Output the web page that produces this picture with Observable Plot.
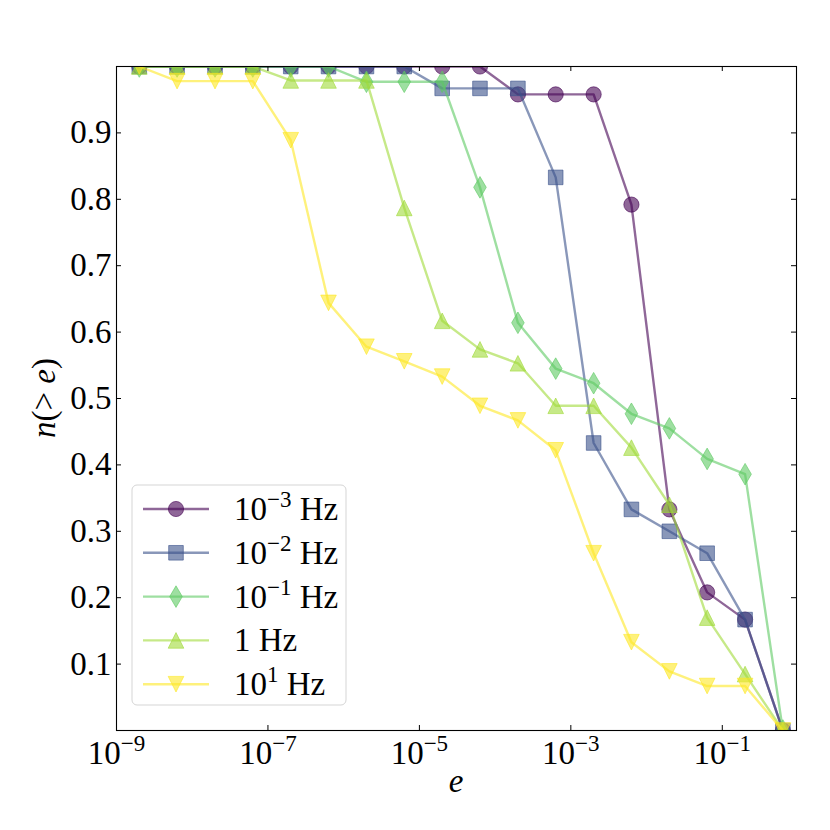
<!DOCTYPE html>
<html><head><meta charset="utf-8">
<script src="https://cdn.jsdelivr.net/npm/d3@7"></script>
<script src="https://cdn.jsdelivr.net/npm/@observablehq/plot@0.6"></script>
<style>
body{margin:0;background:#fff;}
#chart{position:relative;width:830px;height:830px;}
</style></head><body><div id="chart"></div>
<script>
// ---- data ----
const energies = [2e-9, 6.31e-9, 2e-8, 6.31e-8, 2e-7, 6.31e-7, 2e-6, 6.31e-6, 2e-5, 6.31e-5, 2e-4, 6.31e-4, 2e-3, 6.31e-3, 2e-2, 6.31e-2, 0.2, 0.631];
const seriesNames = ["10^−3 Hz", "10^−2 Hz", "10^−1 Hz", "1 Hz", "10^1 Hz"];
const nHz1e_3 = [1, 1, 1, 1, 1, 1, 1, 1, 1, 1, 0.958, 0.958, 0.958, 0.792, 0.333, 0.208, 0.167, 0];
const nHz1e_2 = [1, 1, 1, 1, 1, 1, 1, 1, 0.967, 0.967, 0.967, 0.833, 0.433, 0.333, 0.300, 0.267, 0.167, 0];
const nHz1e_1 = [1, 1, 1, 1, 1, 1, 0.977, 0.977, 0.977, 0.818, 0.614, 0.545, 0.523, 0.477, 0.455, 0.409, 0.386, 0];
const nHz1e0  = [1, 1, 1, 1, 0.979, 0.979, 0.979, 0.787, 0.617, 0.574, 0.553, 0.489, 0.489, 0.426, 0.340, 0.170, 0.085, 0];
const nHz1e1  = [1, 0.978, 0.978, 0.978, 0.889, 0.644, 0.578, 0.556, 0.533, 0.489, 0.467, 0.422, 0.267, 0.133, 0.089, 0.067, 0.067, 0];
const seriesValues = [nHz1e_3, nHz1e_2, nHz1e_1, nHz1e0, nHz1e1];
const xTicks = [1e-9, 1e-7, 1e-5, 1e-3, 1e-1];
const yTicks = [0.1, 0.2, 0.3, 0.4, 0.5, 0.6, 0.7, 0.8, 0.9];

// ---- styles ----
const colors = ["#440154", "#3b528b", "#5ec962", "#a0da39", "#fde725"];
const ALPHA = 0.6;
const FONT = "'Liberation Serif', 'DejaVu Serif', serif";
const symCircle = {draw(c){ c.moveTo(7.6, 0); c.arc(0, 0, 7.6, 0, 2 * Math.PI); c.closePath(); }};
const symSquare = {draw(c){ c.moveTo(-7.3, -7.3); c.lineTo(7.3, -7.3); c.lineTo(7.3, 7.3); c.lineTo(-7.3, 7.3); c.closePath(); }};
const symThinDiamond = {draw(c){ c.moveTo(0, -10.8); c.lineTo(6.3, 0); c.lineTo(0, 10.8); c.lineTo(-6.3, 0); c.closePath(); }};
const symTriUp = {draw(c){ c.moveTo(0, -7.8); c.lineTo(7.8, 7.8); c.lineTo(-7.8, 7.8); c.closePath(); }};
const symTriDown = {draw(c){ c.moveTo(0, 7.8); c.lineTo(7.8, -7.8); c.lineTo(-7.8, -7.8); c.closePath(); }};
const symbols = [symCircle, symSquare, symThinDiamond, symTriUp, symTriDown];

const W = 830, H = 830, mL = 116, mR = 34, mT = 66, mB = 100;
const pw = W - mL - mR, ph = H - mT - mB, TL = 5;

const marks = [];
seriesValues.forEach((vals, k) => {
  const rows = energies.map((e, i) => ({e, n: vals[i]}));
  marks.push(Plot.line(rows, {x: "e", y: "n", stroke: colors[k], strokeWidth: 2.4, strokeOpacity: ALPHA, clip: true}));
  marks.push(Plot.dot(rows, {x: "e", y: "n", symbol: symbols[k], fill: colors[k], fillOpacity: ALPHA,
    stroke: colors[k], strokeOpacity: ALPHA, strokeWidth: 1, clip: true}));
});

const svg = Plot.plot({
  width: W, height: H,
  marginLeft: mL, marginRight: mR, marginTop: mT, marginBottom: mB,
  style: {fontFamily: FONT, fontSize: "33px", color: "#000", background: "#fff"},
  x: {type: "log", domain: [1e-9, 0.955]},
  y: {domain: [0, 1]},
  marks: [
    ...marks,
    Plot.frame({stroke: "#000", strokeWidth: 1.1}),
    Plot.tickX(xTicks, {x: d => d, insetTop: ph - TL, stroke: "#000"}),
    Plot.tickX(xTicks, {x: d => d, insetBottom: ph - TL, stroke: "#000"}),
    Plot.tickY(yTicks, {y: d => d, insetRight: pw - TL, stroke: "#000"}),
    Plot.tickY(yTicks, {y: d => d, insetLeft: pw - TL, stroke: "#000"}),
    Plot.axisX({ticks: xTicks, tickSize: 0, tickPadding: 10, fontSize: 33, label: null,
      tickFormat: d => String(Math.round(Math.log10(d))).replace("-", "−")}),
    Plot.axisY({ticks: yTicks, tickSize: 0, tickPadding: 5, fontSize: 33, label: null,
      tickFormat: d3.format(".1f")})
  ]
});
document.getElementById("chart").appendChild(svg);
const S = d3.select(svg);

// superscript x tick labels
S.selectAll('g[aria-label="x-axis tick label"] text').each(function(){
  const exp = this.textContent;
  this.textContent = "";
  const t = d3.select(this);
  t.append("tspan").text("10");
  t.append("tspan").attr("dy", -13).attr("font-size", "23px").text(exp);
});

// axis labels
S.append("text").attr("x", mL + pw / 2).attr("y", 792).attr("text-anchor", "middle")
  .attr("font-family", FONT).attr("font-size", 33).attr("font-style", "italic").text("e");
const yl = S.append("text").attr("transform", `translate(55,${mT + ph / 2}) rotate(-90)`)
  .attr("text-anchor", "middle").attr("font-family", FONT).attr("font-size", 33);
yl.append("tspan").attr("font-style", "italic").text("n");
yl.append("tspan").text("(> ");
yl.append("tspan").attr("font-style", "italic").text("e");
yl.append("tspan").text(")");

// legend
const lg = S.append("g").attr("text-anchor", "start");
lg.append("rect").attr("x", 132).attr("y", 485).attr("width", 214).attr("height", 220).attr("rx", 5)
  .attr("fill", "#fff").attr("fill-opacity", 0.8).attr("stroke", "#d5d5d5").attr("stroke-width", 1);
seriesNames.forEach((name, k) => {
  const yy = 509 + k * 43.8;
  lg.append("line").attr("x1", 143).attr("x2", 209).attr("y1", yy).attr("y2", yy)
    .attr("stroke", colors[k]).attr("stroke-width", 2.4).attr("stroke-opacity", ALPHA);
  const p = d3.path(); symbols[k].draw(p);
  lg.append("path").attr("d", p.toString()).attr("transform", `translate(176,${yy})`)
    .attr("fill", colors[k]).attr("fill-opacity", ALPHA).attr("stroke", colors[k]).attr("stroke-opacity", ALPHA);
  const t = lg.append("text").attr("x", 234).attr("y", yy + 11).attr("text-anchor", "start")
    .attr("font-family", FONT).attr("font-size", 33);
  const m = name.match(/^(\d+)\^(\S+)(.*)$/);
  if (m) {
    t.append("tspan").text(m[1]);
    t.append("tspan").attr("dy", -13).attr("font-size", "23px").text(m[2]);
    t.append("tspan").attr("dy", 13).text(m[3]);
  } else {
    t.text(name);
  }
});
</script></body></html>
